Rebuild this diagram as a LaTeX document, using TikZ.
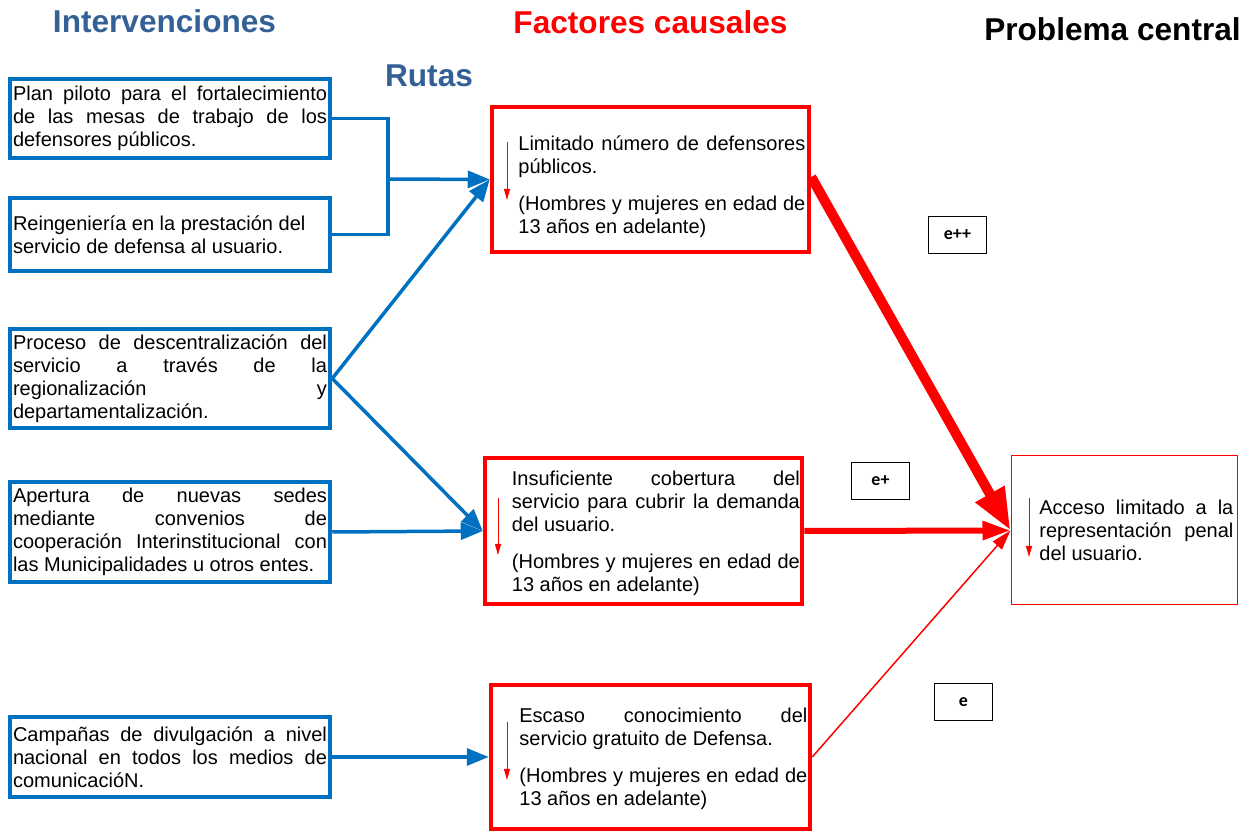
\documentclass[tikz,border=0pt]{standalone}
\usepackage{fontspec}
\setmainfont{Liberation Sans}
\newfontfamily\calibri{Carlito}
\usetikzlibrary{arrows.meta}
\definecolor{azul}{RGB}{0,112,192}
\definecolor{azultit}{RGB}{51,96,150}
\newcommand{\textofont}{\fontsize{10}{11.5}\selectfont\tolerance=10000\hbadness=10000}
\tikzset{
  interv/.style={draw=azul,line width=2.25pt,minimum width=160pt,text width=157pt,inner xsep=1.5pt,inner ysep=1pt,align=justify,font=\textofont},
  causa/.style={draw=red,line width=2.25pt,minimum width=158.5pt},
  problema/.style={draw=red,line width=0.5pt,minimum width=113pt,minimum height=74.5pt},
  texto/.style={inner sep=0pt,anchor=west,align=justify,font=\textofont},
  titulo/.style={font=\fontsize{15.8}{18}\selectfont\bfseries,inner sep=0pt,anchor=base},
  peso/.style={draw,line width=0.5pt,minimum width=29pt,minimum height=18.5pt,font=\calibri\bfseries\fontsize{9}{10}\selectfont},
  ruta/.style={draw=azul,line width=1.75pt,-{Triangle[length=11pt,width=8.5pt]}}
}
\begin{document}
\begin{tikzpicture}[x=0.5pt,y=-0.5pt]
  \useasboundingbox (0,0) rectangle (1254,833);
  % titulos
  \node[titulo,text=azultit] (tint) at (164.5,33) {Intervenciones};
  \node[titulo,text=azultit] (trut) at (429,87) {Rutas};
  \node[titulo,text=red] (tfac) at (650.5,34) {Factores causales};
  \node[titulo] (tpro) at (1112.5,41) {Problema central};
  % intervenciones
  \node[interv,minimum height=39.5pt] (i1) at (170,118.5) {Plan piloto para el fortalecimiento\linebreak de las mesas de trabajo de los\linebreak defensores públicos.};
  \node[interv,minimum height=36.5pt] (i2) at (170,234.5) {Reingeniería en la prestación del\newline servicio de defensa al usuario.};
  \node[interv,minimum height=49.5pt] (i3) at (170,378.5) {Proceso de descentralización del\linebreak servicio a través de la\linebreak regionalización y\linebreak departamentalización.};
  \node[interv,minimum height=50pt] (i4) at (170,532) {Apertura de nuevas sedes\linebreak mediante convenios de\linebreak cooperación Interinstitucional con\linebreak las Municipalidades u otros entes.};
  \node[interv,minimum height=40pt] (i5) at (170,757) {Campañas de divulgación a nivel\linebreak nacional en todos los medios de\linebreak comunicacióN.};
  % factores causales
  \node[causa,minimum height=72.5pt] (c1) at (650.5,179.5) {};
  \node[texto,text width=143.5pt] (d1) at (518,187) {Limitado número de defensores\linebreak públicos.\par\vspace{7pt}(Hombres y mujeres en edad de\linebreak 13 años en adelante)};
  \node[causa,minimum height=73pt] (c2) at (643.5,531) {};
  \node[texto,text width=144pt] (d2) at (511.5,533) {Insuficiente cobertura del\linebreak servicio para cubrir la demanda\linebreak del usuario.\par\vspace{7pt}(Hombres y mujeres en edad de\linebreak 13 años en adelante)};
  \node[causa,minimum height=72pt,minimum width=159.5pt] (c3) at (650.5,757) {};
  \node[texto,text width=144pt] (d3) at (519,759) {Escaso conocimiento del\linebreak servicio gratuito de Defensa.\par\vspace{7pt}(Hombres y mujeres en edad de\linebreak 13 años en adelante)};
  % problema central
  \node[problema] (p) at (1124,530.5) {};
  \node[texto,text width=97pt] (dp) at (1039,530.5) {Acceso limitado a la\linebreak representación penal\linebreak del usuario.};
  % pesos
  \node[peso] (w1) at (957.5,235) {e++};
  \node[peso] (w2) at (880.5,481) {e+};
  \node[peso] (w3) at (963.5,702) {e};
  % rutas
  \coordinate (j) at (388,179);
  \draw[azul,line width=1.75pt] (i1.east) -| (j) |- (i2.east);
  \draw[ruta] (j) -- (c1.west);
  \draw[ruta] (i3.east) -- (c1.west);
  \draw[ruta] (i3.east) -- (c2.west);
  \draw[ruta] (i4.east) -- (c2.west);
  \draw[ruta] (i5.east) -- (c3.west);
  % efectos
  \draw[red,line width=5pt,-{Triangle[length=21pt,width=15.5pt]}] ([yshift=1.25pt]c1.east) -- (p.west);
  \draw[red,line width=3pt,-{Triangle[length=14pt,width=9pt]}] (c2.east) -- (p.west);
  \draw[red,line width=0.75pt,-{Triangle[length=10pt,width=6pt]}] (c3.east) -- (p.west);
  \foreach \x/\a/\b in {507/142/200, 498/498/555, 507/722/780, 1029/498/557}
    \draw[red,line width=0.5pt,-{Triangle[length=5.5pt,width=3pt]}] (\x,\a) -- (\x,\b);
\end{tikzpicture}
\end{document}
